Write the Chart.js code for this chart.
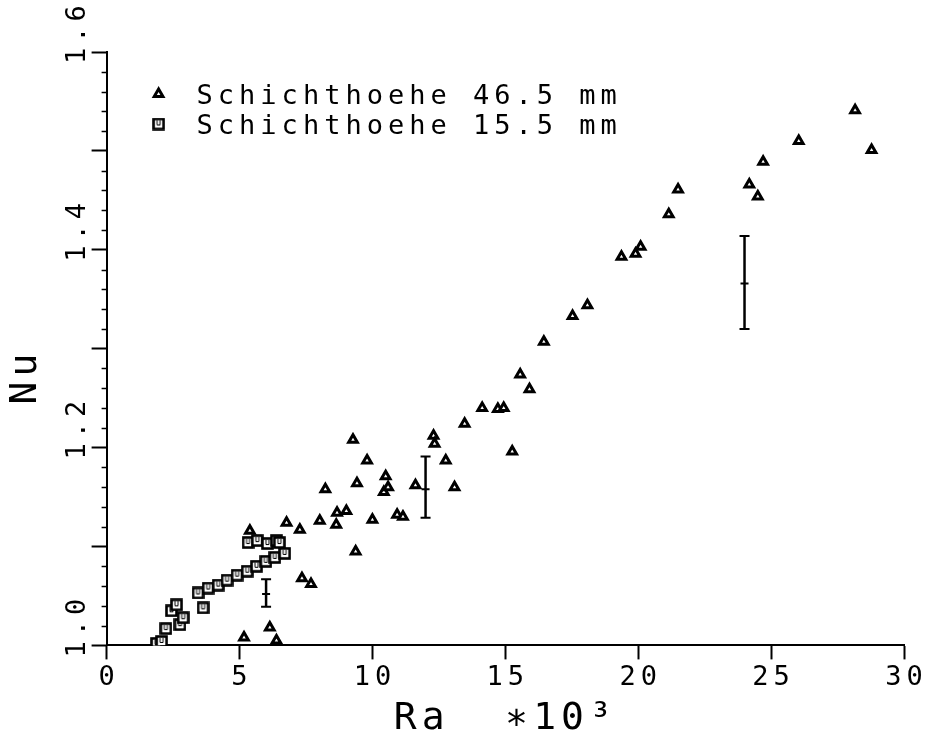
<!DOCTYPE html>
<html>
<head>
<meta charset="utf-8">
<title>Nu - Ra</title>
<script src="https://cdn.jsdelivr.net/npm/chart.js@4.4.1/dist/chart.umd.min.js"></script>
<style>
  html, body { margin: 0; padding: 0; background: #fff; }
  #wrap { width: 931px; height: 742px; }
</style>
</head>
<body>
<div id="wrap"><canvas id="nuChart"></canvas></div>
<script>
// Messwerte: Ra in 10^3, Nu
const triX = [5.17, 6.14, 6.39, 5.39, 6.77, 7.27, 7.35, 7.69, 8.02, 8.23,
              8.64, 8.67, 9.02, 9.27, 9.37, 9.42, 9.80, 10.00, 10.43, 10.50,
              10.59, 10.93, 11.15, 11.62, 12.30, 12.34, 12.76, 13.09, 13.47, 14.13,
              14.72, 14.94, 15.26, 15.56, 15.91, 16.45, 17.53, 18.09, 19.37, 19.90,
              20.09, 21.15, 21.50, 24.18, 24.50, 24.70, 26.04, 28.16, 28.78];
const triY = [1.008, 1.018, 1.005, 1.116, 1.124, 1.117, 1.068, 1.062, 1.126, 1.158,
              1.122, 1.134, 1.136, 1.208, 1.095, 1.164, 1.187, 1.127, 1.155, 1.171,
              1.160, 1.132, 1.130, 1.162, 1.212, 1.204, 1.187, 1.160, 1.224, 1.240,
              1.239, 1.240, 1.196, 1.274, 1.259, 1.307, 1.333, 1.344, 1.393, 1.396,
              1.403, 1.436, 1.461, 1.466, 1.454, 1.489, 1.510, 1.541, 1.501];

const sqX = [1.88, 2.07, 2.23, 2.44, 2.63, 2.76, 2.88, 3.44, 3.63, 3.82,
             4.20, 4.53, 4.91, 5.29, 5.32, 5.64, 5.67, 5.99, 6.05, 6.33,
             6.39, 6.50, 6.70];
const sqY = [1.002, 1.004, 1.017, 1.035, 1.041, 1.021, 1.028, 1.053, 1.038, 1.058,
             1.061, 1.066, 1.071, 1.075, 1.104, 1.080, 1.106, 1.085, 1.103, 1.089,
             1.106, 1.104, 1.093];

// Fehlerbalken
const errX = [6.0, 12.0, 24.0];
const errLow = [1.039, 1.129, 1.320];
const errMid = [1.052, 1.158, 1.366];
const errHigh = [1.067, 1.191, 1.414];

const seriesLabels = ['Schichthoehe 46.5 mm', 'Schichthoehe 15.5 mm'];
const xTitle = 'Ra  \u221710\u00b3';
const yTitle = 'Nu  ';

const FONT = '"DejaVu Sans Mono", "Liberation Mono", monospace';

// Quadrat-Symbol mit kleinem u (Plotter-Marker)
const boxMark = document.createElement('canvas');
boxMark.width = 13;
boxMark.height = 13;
(function () {
  const b = boxMark.getContext('2d');
  b.fillStyle = '#fff';
  b.fillRect(1, 1, 11, 11);
  b.strokeStyle = '#000';
  b.lineWidth = 2.6;
  b.strokeRect(1.5, 1.5, 10, 10);
  b.lineWidth = 1;
  b.beginPath();
  b.moveTo(5, 3);
  b.lineTo(5, 7.5);
  b.lineTo(8, 7.5);
  b.lineTo(8, 3);
  b.stroke();
})();

const toPoints = (xs, ys) => xs.map((x, i) => ({ x: x, y: ys[i] }));

// weite Zeichenabstaende wie beim Plotter
const plotterText = {
  id: 'plotterText',
  beforeLayout(chart) { chart.ctx.letterSpacing = '5px'; },
  beforeDraw(chart) { chart.ctx.letterSpacing = '5px'; }
};

// kleine Zwischenstriche an der Nu-Achse
const minorTicks = {
  id: 'minorTicks',
  afterDraw(chart) {
    const y = chart.scales.y;
    const ctx = chart.ctx;
    const x0 = chart.chartArea.left;
    const n = Math.round((y.max - y.min) / 0.02);
    ctx.save();
    ctx.strokeStyle = '#000';
    ctx.lineWidth = 1.5;
    ctx.beginPath();
    for (let i = 1; i < n; i++) {
      if (i % 5 === 0) continue;
      const py = Math.round(y.getPixelForValue(y.min + i * 0.02)) + 0.5;
      ctx.moveTo(x0 - 5, py);
      ctx.lineTo(x0, py);
    }
    ctx.stroke();
    ctx.restore();
  }
};

const errorBars = {
  id: 'errorBars',
  afterDatasetsDraw(chart) {
    const { ctx, scales: { x, y } } = chart;
    ctx.save();
    ctx.strokeStyle = '#000';
    errX.forEach((v, i) => {
      const px = x.getPixelForValue(v);
      const top = y.getPixelForValue(errHigh[i]);
      const mid = y.getPixelForValue(errMid[i]);
      const bot = y.getPixelForValue(errLow[i]);
      ctx.lineWidth = 2.5;
      ctx.beginPath();
      ctx.moveTo(px, top);
      ctx.lineTo(px, bot);
      ctx.stroke();
      ctx.lineWidth = 2;
      ctx.beginPath();
      ctx.moveTo(px - 5, top); ctx.lineTo(px + 5, top);
      ctx.moveTo(px - 5, bot); ctx.lineTo(px + 5, bot);
      ctx.moveTo(px - 4, mid); ctx.lineTo(px + 4, mid);
      ctx.stroke();
    });
    ctx.restore();
  }
};

// Legende oben links im Diagramm
const markerLegend = {
  id: 'markerLegend',
  afterDraw(chart) {
    const { ctx, chartArea } = chart;
    ctx.save();
    ctx.letterSpacing = '5px';
    chart.data.datasets.forEach((ds, i) => {
      const cy = chartArea.top + 45 + i * 30;
      ctx.fillStyle = ds.backgroundColor;
      ctx.strokeStyle = ds.borderColor;
      ctx.lineWidth = ds.borderWidth;
      if (Chart.helpers && Chart.helpers.drawPoint) {
        Chart.helpers.drawPoint(ctx, {
          pointStyle: ds.pointStyle, radius: ds.pointRadius,
          borderWidth: ds.borderWidth, rotation: 0
        }, chartArea.left + 52, cy - 3);
      }
      ctx.fillStyle = '#000';
      ctx.font = '27px ' + FONT;
      ctx.textAlign = 'left';
      ctx.textBaseline = 'middle';
      ctx.fillText(ds.label, chartArea.left + 90, cy);
    });
    ctx.restore();
  }
};

new Chart(document.getElementById('nuChart'), {
  type: 'scatter',
  data: {
    datasets: [
      {
        label: seriesLabels[0],
        data: toPoints(triX, triY),
        pointStyle: 'triangle',
        pointRadius: 5,
        pointHoverRadius: 5,
        borderWidth: 3,
        borderColor: '#000',
        backgroundColor: '#fff'
      },
      {
        label: seriesLabels[1],
        data: toPoints(sqX, sqY),
        pointStyle: boxMark,
        pointRadius: 6,
        pointHoverRadius: 6,
        borderWidth: 2,
        borderColor: '#000',
        backgroundColor: '#fff'
      }
    ]
  },
  options: {
    responsive: true,
    maintainAspectRatio: false,
    animation: false,
    layout: { padding: { left: 0, right: 27, top: 52, bottom: 0 } },
    plugins: {
      legend: { display: false },
      tooltip: { enabled: false }
    },
    scales: {
      x: {
        type: 'linear',
        min: 0,
        max: 30,
        ticks: {
          stepSize: 5,
          padding: 5,
          labelOffset: 2.5,
          color: '#000',
          maxRotation: 0,
          font: { family: FONT, size: 27, lineHeight: 1.0 }
        },
        grid: { drawOnChartArea: false, tickLength: 14, tickWidth: 2, tickColor: '#000' },
        border: { color: '#000', width: 2 },
        title: {
          display: true,
          text: xTitle,
          color: '#000',
          font: { family: FONT, size: 38 },
          padding: { top: 0, bottom: 0 }
        }
      },
      y: {
        type: 'linear',
        min: 1.0,
        max: 1.6,
        ticks: {
          stepSize: 0.1,
          minRotation: 90,
          maxRotation: 90,
          crossAlign: 'far',
          align: 'start',
          labelOffset: 12,
          padding: 0,
          color: '#000',
          font: { family: FONT, size: 27, lineHeight: 1.0 },
          callback: (v) => (Math.round(v * 10) % 2 === 0 ? v.toFixed(1) : '')
        },
        grid: { drawOnChartArea: false, tickLength: 15, tickWidth: 2, tickColor: '#000' },
        border: { color: '#000', width: 2 }
      },
      yTitle: {
        type: 'linear',
        position: 'left',
        weight: 1,
        min: 0,
        max: 1,
        ticks: { display: false },
        grid: { display: false, drawTicks: false },
        border: { display: false },
        title: {
          display: true,
          text: yTitle,
          color: '#000',
          font: { family: FONT, size: 38 },
          padding: { top: 3, bottom: 16 }
        }
      }
    }
  },
  plugins: [plotterText, minorTicks, errorBars, markerLegend]
});
</script>
</body>
</html>
